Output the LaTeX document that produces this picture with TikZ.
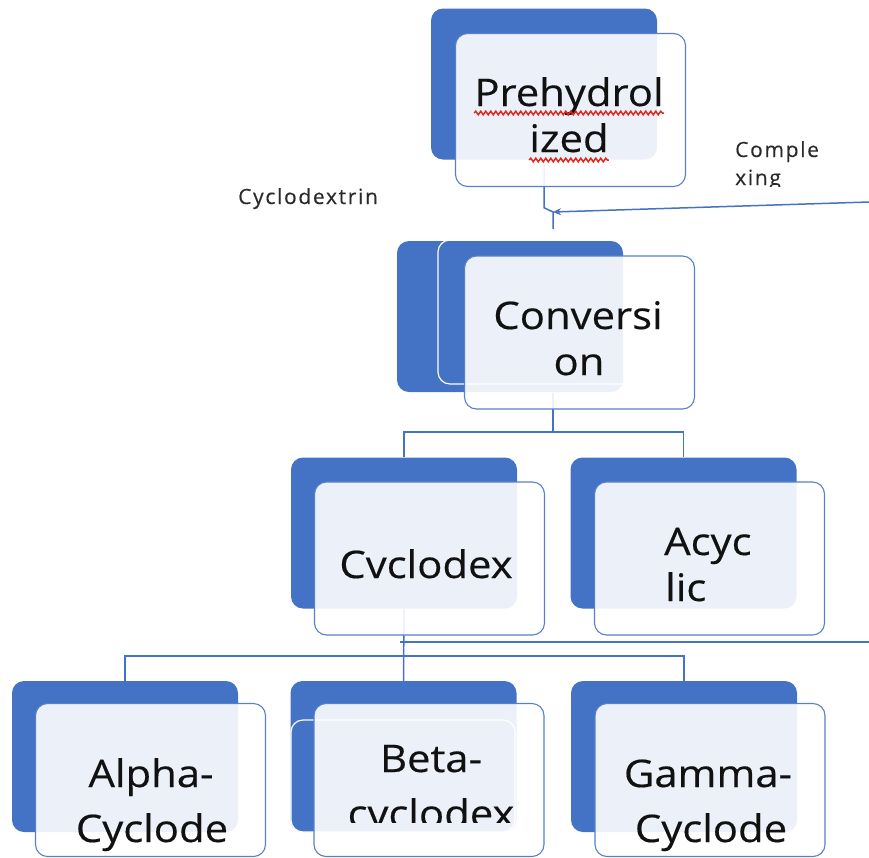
\documentclass[tikz,border=0pt]{standalone}
\usepackage{fontspec}
\setmainfont{Open Sans}
\newfontfamily\boxfont{Open Sans}[FakeStretch=1.1, FakeBold=0.4]
\newfontfamily\notefont{Open Sans}[LetterSpace=8, FakeBold=0.3]
\usetikzlibrary{arrows.meta,decorations.pathmorphing}
\definecolor{smartblue}{HTML}{4472C4}
\definecolor{inkblack}{HTML}{111111}
\definecolor{notegrey}{HTML}{2A2A2A}
\definecolor{spellred}{HTML}{E0281E}
\tikzset{
  back/.style={draw=none, fill=smartblue, rounded corners=12, minimum width=226, minimum height=151, inner sep=0},
  front/.style={draw=smartblue!90, line width=1.1, fill=white, fill opacity=0.9, rounded corners=12, minimum width=230, minimum height=153, inner sep=0},
  ghost/.style={draw=white, line width=1.2, rounded corners=12, inner sep=0},
  link/.style={draw=smartblue, line width=1.5},
  lbl/.style={font=\boxfont\fontsize{38}{44}\selectfont, text=inkblack, inner sep=0},
  note/.style={font=\notefont\fontsize{21}{24}\selectfont, text=notegrey, inner sep=0},
  squiggle/.style={draw=spellred, line width=1.5, decorate, decoration={snake, amplitude=1.8pt, segment length=5pt}}
}
\begin{document}
\begin{tikzpicture}[x=1pt, y=-1pt]
\useasboundingbox (0,0) rectangle (869,857);
\node[back] (preB) at (544,84) {};
\node[back] (convB) at (510,316.5) {};
\node[back] (cycB) at (404,533) {};
\node[back] (acyB) at (683.5,533) {};
\foreach \name/\x in {alpha/125,beta/403.5,gamma/684} \node[back] (\name B) at (\x,756.5) {};
\node[ghost, minimum width=230, minimum height=144] (convG) at (553,312) {};
\node[ghost, minimum width=224, minimum height=112] (betaG) at (403,776) {};
\coordinate (join) at (553,212);
\coordinate (cxEnd) at (869,202);
\coordinate (convHub) at (553,393);
\coordinate (strayL) at (400,642);
\coordinate (strayR) at (869,642);
\draw[link] (preB.south) -- ++(0,48) -- (join) -- ++(0,17);
\draw[link, -{Stealth[length=8pt, width=7pt]}] (cxEnd) -- (join);
\draw[link] (convHub) -- ++(0,39) coordinate (convBus);
\draw[link] (cycB.north) |- (convBus) -| (acyB.north);
\draw[link] (cycB.south) -- (betaB.north);
\draw[link] (alphaB.north) -- ++(0,-25) -| (gammaB.north);
\draw[link] (strayL) -- (strayR);
\node[front] (preF) at (570.5,110) {};
\node[front] (convF) at (579.5,332.5) {};
\node[front] (cycF) at (429.5,558.5) {};
\node[front] (acyF) at (709.5,558.5) {};
\foreach \name/\x in {alpha/150.5,beta/429,gamma/710} \node[front] (\name F) at (\x,780) {};
\node[lbl, anchor=base] (pre1) at (569,106) {Prehydrol};
\node[lbl, anchor=base] (pre2) at (569,152) {ized};
\node[lbl, anchor=base] (conv1) at (578,329) {Conversi};
\node[lbl, anchor=base] (conv2) at (579,375) {on};
\node[lbl, anchor=base] (cyc1) at (426,578) {Cvclodex};
\node[lbl, anchor=base west] (acy1) at (664,555) {Acyc};
\node[lbl, anchor=base west] (acy2) at (665,601) {lic};
\node[lbl, anchor=base] (alpha1) at (151,787) {Alpha-};
\node[lbl, anchor=base] (alpha2) at (152,842) {Cyclode};
\begin{scope}
\clip (280,690) rectangle (560,822);
\node[lbl, anchor=base] (beta1) at (431,772) {Beta-};
\node[lbl, anchor=base] (beta2) at (431,827) {cvclodex};
\end{scope}
\node[lbl, anchor=base] (gamma1) at (708,787) {Gamma-};
\node[lbl, anchor=base] (gamma2) at (711,842) {Cyclode};
\node[note, anchor=base west] (cx1) at (735,157) {Comple};
\begin{scope}
\clip (700,160) rectangle (869,186);
\node[note, anchor=base west] (cx2) at (735,185) {xing};
\end{scope}
\node[note, anchor=base west] (cd) at (238,204) {Cyclodextrin};
\draw[squiggle] ([yshift=-7pt]pre1.base west) -- ([yshift=-7pt]pre1.base east);
\draw[squiggle] ([yshift=-8pt]pre2.base west) -- ([yshift=-8pt]pre2.base east);
\end{tikzpicture}
\end{document}
